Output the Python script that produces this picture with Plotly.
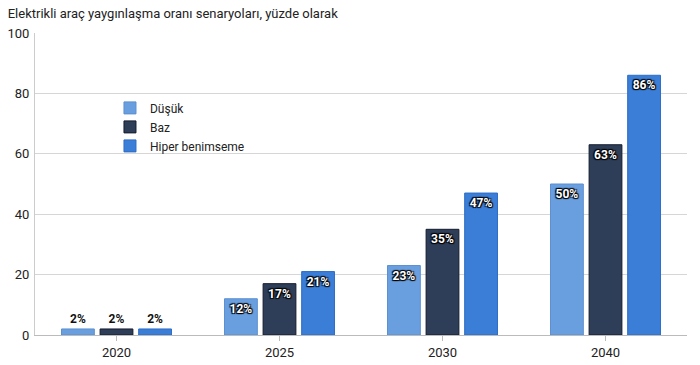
import plotly.graph_objects as go

categories = ["2020", "2025", "2030", "2040"]
dusuk = [2, 12, 23, 50]
baz = [2, 17, 35, 63]
hiper = [2, 21, 47, 86]
series_names = ["Düşük", "Baz", "Hiper benimseme"]
fills = ["rgba(106,159,223,1)", "rgba(46,62,88,1)", "rgba(59,126,216,1)"]
lines = ["#5b8fd0", "#141c2e", "#2c6cc6"]

fig = go.Figure()
for name, vals, fc, lc in zip(series_names, [dusuk, baz, hiper], fills, lines):
    pos = ["inside" if v >= 10 else "outside" for v in vals]
    fig.add_trace(go.Bar(
        x=categories, y=vals, name=name,
        marker=dict(color=fc, line=dict(color=lc, width=1)),
        text=[f"{v}%" for v in vals],
        textposition=pos,
        insidetextanchor="end",
        insidetextfont=dict(family="Roboto", size=12, color="white", weight="bold",
                            shadow="1px 1px 1px #000, -1px -1px 1px #000, 1px -1px 1px #000, -1px 1px 1px #000"),
        outsidetextfont=dict(family="Roboto", size=12, color="#111", weight="bold"),
        textangle=0,
        cliponaxis=False,
    ))

fig.update_layout(
    width=700, height=365,
    margin=dict(l=35, r=13, t=33, b=30),
    paper_bgcolor="white", plot_bgcolor="white",
    barmode="group", bargap=0.29, bargroupgap=0.15,
    font=dict(family="Roboto", size=13, color="#222"),
    title=dict(text="Elektrikli araç yaygınlaşma oranı senaryoları, yüzde olarak",
               x=0.011, xanchor="left", y=0.963, yanchor="middle",
               font=dict(family="Roboto", size=13, color="#222")),
    legend=dict(x=0.115, y=0.8, xanchor="left", yanchor="top",
                bgcolor="rgba(0,0,0,0)", font=dict(size=12, color="#222"),
                itemwidth=30, tracegroupgap=0),
    xaxis=dict(showline=True, linecolor="#bbb", ticks="outside", tickcolor="#bbb",
               ticklen=5, tickfont=dict(size=13, color="#222"), automargin=False),
    yaxis=dict(range=[0, 100], dtick=20, showgrid=True, gridcolor="#d6d6d6",
               showline=True, linecolor="#ccc", zeroline=False, automargin=False,
               ticks="", ticklabelstandoff=2, tickfont=dict(size=13, color="#222")),
)

fig.write_html("out.html", config={"displayModeBar": False},
               post_script="document.body.style.margin='0';")
